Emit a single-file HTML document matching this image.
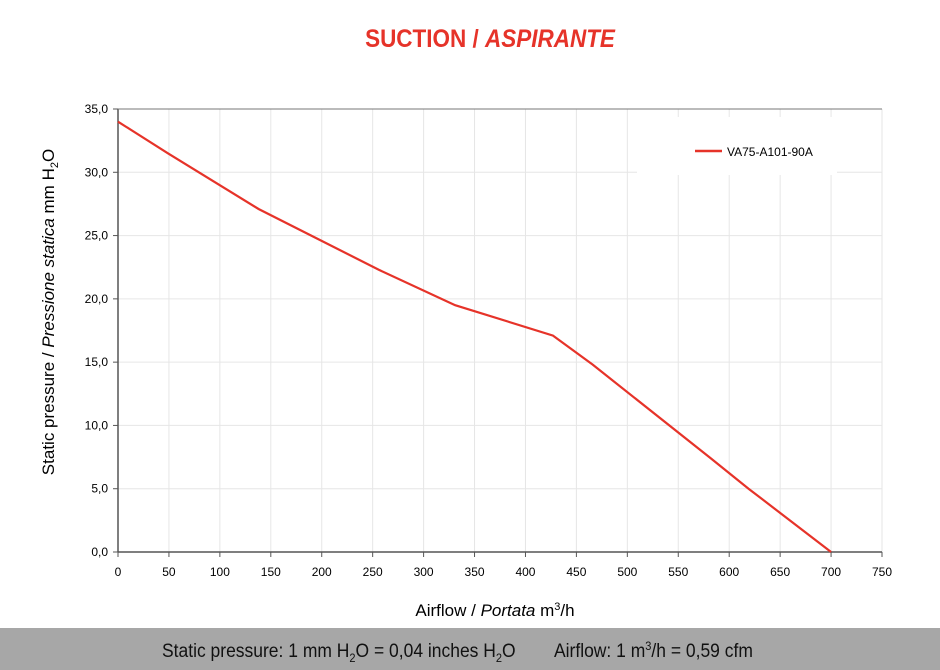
<!DOCTYPE html>
<html><head><meta charset="utf-8"><style>
body{margin:0;width:940px;height:670px;background:#fff;font-family:"Liberation Sans",sans-serif;overflow:hidden;position:relative}
</style></head><body>
<svg width="940" height="670" style="position:absolute;left:0;top:0">
<text x="490" y="47" text-anchor="middle" fill="#e63329" font-size="25" font-weight="bold" transform="translate(490 0) scale(0.9 1) translate(-490 0)">SUCTION / <tspan font-style="italic">ASPIRANTE</tspan></text>
<g id="grid"></g>
<rect x="637" y="117" width="200" height="58" fill="#fff"/>
<line x1="695" y1="151" x2="722" y2="151" stroke="#e63329" stroke-width="2.5"/>
<text x="727" y="156" font-size="12" fill="#000">VA75-A101-90A</text>
<g id="axes"></g>
<polyline id="series" fill="none" stroke="#e63329" stroke-width="2.2"/>
<text transform="translate(54 312) rotate(-90)" text-anchor="middle" font-size="17">Static pressure / <tspan font-style="italic">Pressione statica</tspan>  mm  H<tspan font-size="11" dy="4">2</tspan><tspan dy="-4">O</tspan></text>
<text x="495" y="616" text-anchor="middle" font-size="17">Airflow / <tspan font-style="italic">Portata</tspan>  m<tspan font-size="11" dy="-6">3</tspan><tspan dy="6">/h</tspan></text>
<rect x="0" y="628" width="940" height="42" fill="#a7a7a7"/>
<text x="162" y="657" font-size="19" fill="#111" transform="translate(162 0) scale(0.92 1) translate(-162 0)">Static pressure: 1 mm H<tspan font-size="12" dy="5">2</tspan><tspan dy="-5">O = 0,04 inches H</tspan><tspan font-size="12" dy="5">2</tspan><tspan dy="-5">O</tspan></text>
<text x="554" y="657" font-size="19" fill="#111" transform="translate(554 0) scale(0.92 1) translate(-554 0)">Airflow: 1 m<tspan font-size="12" dy="-7">3</tspan><tspan dy="7">/h = 0,59 cfm</tspan></text>
</svg>
<script>
const xTicks=[0,50,100,150,200,250,300,350,400,450,500,550,600,650,700,750];
const yTicks=[0,5,10,15,20,25,30,35];
const yLabels=["0,0","5,0","10,0","15,0","20,0","25,0","30,0","35,0"];
const airflow=[0,49,138,197,256,331,427,466,582,619,700];
const pressure=[34.0,31.5,27.1,24.7,22.3,19.5,17.1,14.8,7.4,5.0,0];
const X=v=>118+v*(882-118)/750, Y=v=>552-v*(552-109)/35;
const ns="http://www.w3.org/2000/svg";
const grid=document.getElementById('grid'),axes=document.getElementById('axes');
function mk(p,tag,a){const e=document.createElementNS(ns,tag);for(const k in a)e.setAttribute(k,a[k]);p.appendChild(e);return e;}
xTicks.forEach(t=>{
 const g=mk(grid,'line',{x1:X(t),x2:X(t),y1:109,y2:552,stroke:'#e6e6e6','stroke-width':1});
 
 
 const tk=mk(axes,'line',{x1:X(t),x2:X(t),y1:552,y2:557,stroke:'#555'});
 
 
 const l=mk(axes,'text',{x:X(t),y:576,'text-anchor':'middle','font-size':12});
 l.textContent=t;
 
 
});
yTicks.forEach((t,i)=>{
 const g=mk(grid,'line',{x1:118,x2:882,y1:Y(t),y2:Y(t),stroke:'#e6e6e6','stroke-width':1});
 
 
 const tk=mk(axes,'line',{x1:113,x2:118,y1:Y(t),y2:Y(t),stroke:'#555'});
 
 
 const l=mk(axes,'text',{x:108,y:Y(t)+4,'text-anchor':'end','font-size':12});
 l.textContent=yLabels[i];
 
 
});
const ya=mk(axes,'line',{x1:118,x2:118,y1:109,y2:552,stroke:'#555','stroke-width':1.5});


const xa=mk(axes,'line',{x1:118,x2:882,y1:552,y2:552,stroke:'#555','stroke-width':1.5});


const topBorder=mk(axes,'line',{x1:118,x2:882,y1:109,y2:109,stroke:'#777','stroke-width':1});


document.getElementById('series').setAttribute('points',airflow.map((a,i)=>X(a)+','+Y(pressure[i])).join(' '));
</script>
</body></html>
